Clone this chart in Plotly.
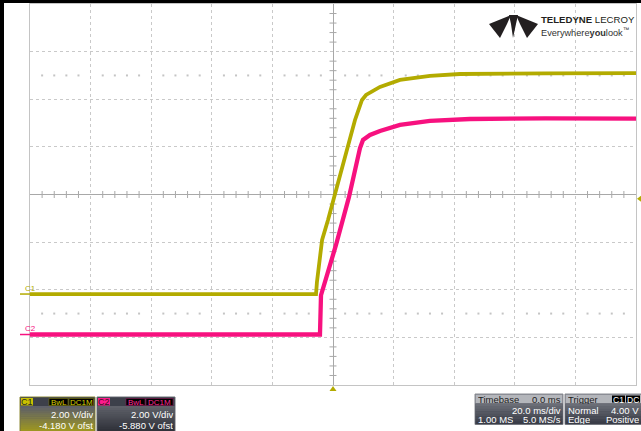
import plotly.graph_objects as go

# ---------------- data ----------------
# time in ms, voltage in V
t_c1 = [-100, -5.6, -5.3, -3.6, -1.65, 1.98, 7.26, 9.57, 10.9, 15.5, 22.1, 32.0, 41.9, 70.0, 100]
v_c1 = [0.0, 0.0, 0.5, 2.27, 3.11, 4.79, 7.31, 8.15, 8.36, 8.70, 8.99, 9.16, 9.24, 9.27, 9.28]
t_c2 = [-100, -4.3, -3.96, 0.99, 5.28, 8.25, 8.91, 9.9, 12.2, 15.5, 22.1, 32.0, 45.2, 70.0, 100]
v_c2 = [0.0, 0.0, 1.65, 3.76, 5.78, 7.54, 7.83, 8.17, 8.38, 8.55, 8.80, 8.97, 9.05, 9.08, 9.07]

c1_vdiv, c1_offset = 2.0, -4.180
c2_vdiv, c2_offset = 2.0, -5.880
trig_level = 4.00
time_div = 20.0

C1_COL = "#b3ab00"
C2_COL = "#f7117f"

# ---------------- geometry ----------------
W, H = 641, 431
L, R, T, B = 30, 636, 4, 385


def px(x):
    return (x - L) / (R - L)


def py(y):
    return (B - y) / (B - T)


def to_div(v, off, vdiv):
    return [(a + off) / vdiv for a in v]


fig = go.Figure()

# grid decoration: center ticks and dotted rows
xt = [-100 + 4 * k for k in range(51) if (k % 5) != 0]
yt = [-4 + 0.2 * k for k in range(41) if (k % 5) != 0]
fig.add_trace(go.Scatter(x=xt, y=[0] * len(xt), mode="markers",
                         marker=dict(symbol="line-ns", size=5, line=dict(width=1, color="#a8a8a8")),
                         hoverinfo="skip", showlegend=False))
fig.add_trace(go.Scatter(x=[0] * len(yt), y=yt, mode="markers",
                         marker=dict(symbol="line-ew", size=5, line=dict(width=1, color="#a8a8a8")),
                         hoverinfo="skip", showlegend=False))
for yy in (2.5, -2.5):
    fig.add_trace(go.Scatter(x=xt, y=[yy] * len(xt), mode="markers",
                             marker=dict(symbol="square", size=2, color="#c4c4c4"),
                             hoverinfo="skip", showlegend=False))

# traces
fig.add_trace(go.Scatter(x=t_c1, y=to_div(v_c1, c1_offset, c1_vdiv), mode="lines",
                         line=dict(color=C1_COL, width=3.8), showlegend=False))
fig.add_trace(go.Scatter(x=t_c2, y=to_div(v_c2, c2_offset, c2_vdiv), mode="lines",
                         line=dict(color=C2_COL, width=4.3), showlegend=False))

axis_common = dict(showticklabels=False, ticks="", showgrid=True, gridcolor="#c9c9c9",
                   griddash="dot", gridwidth=1, zeroline=True, zerolinecolor="#a8a8a8",
                   zerolinewidth=1, showline=True, linecolor="#c4c4c4", linewidth=1,
                   mirror=True, fixedrange=True)
fig.update_xaxes(range=[-5 * time_div, 5 * time_div], dtick=time_div, **axis_common)
fig.update_yaxes(range=[-4, 4], dtick=1, **axis_common)

shapes = []
ann = []


def rect(x0, y0, x1, y1, fill, line=None, lw=0):
    shapes.append(dict(type="rect", xref="paper", yref="paper",
                       x0=px(x0), x1=px(x1), y0=py(y0), y1=py(y1),
                       fillcolor=fill, line=dict(color=line or fill, width=lw), layer="above"))


def text(x, y, s, color, size=9, anchor="left", bold=False, family="Liberation Sans", h=None):
    a = dict(x=px(x), y=py(y), xref="paper", yref="paper", text=("<b>%s</b>" % s) if bold else s,
             showarrow=False, xanchor=anchor, yanchor="middle", borderpad=0,
             font=dict(color=color, size=size, family=family))
    if h is not None:
        a["height"] = h
        a["valign"] = "middle"
    ann.append(a)


def path(points, fill):
    d = "M " + " L ".join("%f,%f" % (px(a), py(b)) for a, b in points) + " Z"
    shapes.append(dict(type="path", xref="paper", yref="paper", path=d,
                       fillcolor=fill, line=dict(color=fill, width=0), layer="above"))


def hexmix(c1, c2, f):
    a = [int(c1[i:i + 2], 16) for i in (1, 3, 5)]
    b = [int(c2[i:i + 2], 16) for i in (1, 3, 5)]
    return "#%02x%02x%02x" % tuple(int(round(a[i] + (b[i] - a[i]) * f)) for i in range(3))


def gradient(x0, y0, x1, y1, ctop, cbot, n=10):
    h = (y1 - y0) / n
    for i in range(n):
        rect(x0, y0 + i * h, x1, y0 + (i + 1) * h + 0.3, hexmix(ctop, cbot, i / (n - 1)))


# black frame (left and top)
rect(0, 0, 4, H, "#000000")
rect(0, 0, W, 3, "#000000")

# ground markers
for lab, off, vdiv, col in (("C1", c1_offset, c1_vdiv, C1_COL), ("C2", c2_offset, c2_vdiv, C2_COL)):
    g = off / vdiv
    shapes.append(dict(type="line", xref="paper", yref="y", x0=px(20), x1=px(30), y0=g, y1=g,
                       line=dict(color=col, width=1.5), layer="above"))
    gy = B - (g + 4) / 8 * (B - T)
    text(24, gy - 6, lab, col, size=8)

# trigger level arrow (right) and trigger time marker (bottom)
tl = (trig_level + c1_offset) / c1_vdiv
ty = B - (tl + 4) / 8 * (B - T)
path([(637, ty), (641, ty - 3), (641, ty + 3)], C1_COL)
tx = L + (0 + 5 * time_div) / (10 * time_div) * (R - L)
path([(tx, 386), (tx - 3.5, 391), (tx + 3.5, 391)], C1_COL)

# logo
path([(489, 24), (511, 15), (507, 24), (500, 38)], "#231f20")
path([(509, 15), (518, 15), (516, 24), (513, 38), (511, 24)], "#231f20")
path([(516, 15), (538, 24), (527, 38), (520, 24)], "#231f20")
text(540, 19, "<b>TELEDYNE</b> LECROY", "#231f20", size=9.6)
text(540, 32, "Everywhere<b>you</b>look<sup>™</sup>", "#333333", size=9.2)

# ----- C1 box -----
rect(20, 397, 95, 432, "#4e515c", "#8f8b35", 1)
rect(20.5, 397.5, 94.5, 406, "#3d404a")
gradient(20.5, 406, 94.5, 431, "#5f6169", "#9c9522", n=12)
rect(21, 398, 33, 405.5, "#c9c100", "#c9c100")
text(27, 401.8, "C1", "#2a2a2a", size=9, anchor="center", h=8)
rect(49, 398.5, 68, 405.5, "#000000", "#7a7600", 0.6)
text(58.5, 402, "BwL", "#d8d000", size=8, anchor="center", h=7)
rect(69, 398.5, 93.5, 405.5, "#000000", "#7a7600", 0.6)
text(81.2, 402, "DC1M", "#d8d000", size=8, anchor="center", h=7)
text(94, 413.5, "2.00 V/div", "#ffffff", size=9.5, anchor="right", h=10)
text(94, 425, "-4.180 V ofst", "#ffffff", size=9.5, anchor="right", h=10)

# ----- C2 box -----
rect(97, 397, 175, 432, "#4e515c", "#6c6e76", 1)
rect(97.5, 397.5, 174.5, 406, "#3d404a")
gradient(97.5, 406, 174.5, 431, "#5f6169", "#30323a", n=12)
rect(98, 398, 110, 405.5, "#ff1a8c", "#ff1a8c")
text(104, 401.8, "C2", "#3a1020", size=9, anchor="center", h=8)
rect(126, 398.5, 145, 405.5, "#000000", "#8a1050", 0.6)
text(135.5, 402, "BwL", "#ff2a95", size=8, anchor="center", h=7)
rect(146, 398.5, 173, 405.5, "#000000", "#8a1050", 0.6)
text(159.5, 402, "DC1M", "#ff2a95", size=8, anchor="center", h=7)
text(174, 413.5, "2.00 V/div", "#ffffff", size=9.5, anchor="right", h=10)
text(174, 425, "-5.880 V ofst", "#ffffff", size=9.5, anchor="right", h=10)

# ----- Timebase box -----
rect(475, 394, 563, 424.5, "#3c3f4a", "#8a8c92", 1)
rect(475.5, 394.5, 562.5, 403.5, "#b4b6bb")
gradient(475.5, 403.5, 562.5, 424, "#6a6d76", "#3a3d48", n=8)
text(477, 399, "Timebase", "#1e1e1e", size=9.5, h=9)
text(562, 399, "0.0 ms", "#1e1e1e", size=9.5, anchor="right", h=9)
text(562, 410.5, "20.0 ms/div", "#ffffff", size=9.5, anchor="right", h=9)
text(477, 419.5, "1.00 MS", "#ffffff", size=9.5, h=9)
text(562, 419.5, "5.0 MS/s", "#ffffff", size=9.5, anchor="right", h=9)

# ----- Trigger box -----
rect(565, 394, 642, 424.5, "#3c3f4a", "#8a8c92", 1)
rect(565.5, 394.5, 641, 403.5, "#b4b6bb")
gradient(565.5, 403.5, 641, 424, "#6a6d76", "#3a3d48", n=8)
text(567, 399, "Trigger", "#1e1e1e", size=9.5, h=9)
rect(612, 395.5, 625, 402.5, "#000000")
text(618.5, 399, "C1", "#ffffff", size=8.5, anchor="center", h=7)
rect(626, 395.5, 640, 402.5, "#000000")
text(633, 399, "DC", "#ffffff", size=8.5, anchor="center", h=7)
text(567, 410.5, "Normal", "#ffffff", size=9.5, h=9)
text(640, 410.5, "4.00 V", "#ffffff", size=9.5, anchor="right", h=9)
text(567, 419.5, "Edge", "#ffffff", size=9.5, h=9)
text(640, 419.5, "Positive", "#ffffff", size=9.5, anchor="right", h=9)

fig.update_layout(width=W, height=H, margin=dict(l=L, r=W - R, t=T, b=H - B),
                  paper_bgcolor="#ffffff", plot_bgcolor="#ffffff",
                  shapes=shapes, annotations=ann, showlegend=False)

fig.write_html("out.html", config={"displayModeBar": False},
               post_script="document.body.style.margin='0';document.body.style.overflow='hidden';")
